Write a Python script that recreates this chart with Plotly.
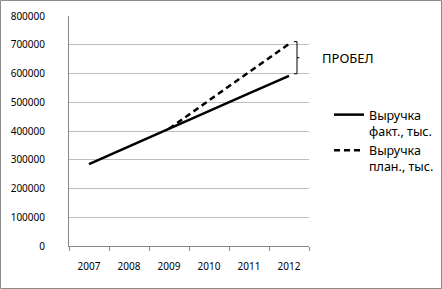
import plotly.graph_objects as go

years = ["2007", "2008", "2009", "2010", "2011", "2012"]
fact = [285000, 347000, 408000, 470000, 531000, 592000]
plan = [None, None, 408000, 506000, 604000, 703000]
y_ticks = [0, 100000, 200000, 300000, 400000, 500000, 600000, 700000, 800000]
fact_name = "Выручка<br>факт., тыс."
plan_name = "Выручка<br>план., тыс."
gap_label = "ПРОБЕЛ"
gap_top, gap_bottom = 711000, 599000

W, H = 442, 289
L, R, T, B = 69, 133, 16, 43
pw, ph = W - L - R, H - T - B

def px(xp):
    return (xp - L) / pw

def py(yp):
    return (H - B - yp) / ph

font = dict(family="Noto Sans", size=10, color="#000000")

fig = go.Figure()
fig.add_trace(go.Scatter(x=years, y=fact, mode="lines", name=fact_name,
                         line=dict(color="black", width=2.5)))
fig.add_trace(go.Scatter(x=years, y=plan, mode="lines", name=plan_name,
                         line=dict(color="black", width=2.5, dash="6px,4px")))

gap_mid = (gap_top + gap_bottom) / 2
bx = px(297)
shapes = [
    dict(type="line", xref="paper", yref="y", x0=bx, x1=bx, y0=gap_bottom, y1=gap_top,
         line=dict(color="black", width=1)),
    dict(type="line", xref="paper", yref="y", x0=px(294), x1=bx, y0=gap_top, y1=gap_top,
         line=dict(color="black", width=1)),
    dict(type="line", xref="paper", yref="y", x0=px(294), x1=bx, y0=gap_bottom, y1=gap_bottom,
         line=dict(color="black", width=1)),
    dict(type="line", xref="paper", yref="y", x0=bx, x1=px(299.5), y0=gap_mid, y1=gap_mid,
         line=dict(color="black", width=1)),
    dict(type="rect", xref="paper", yref="paper", x0=px(0.5), x1=px(441.5), y0=py(288.5), y1=py(0.5),
         line=dict(color="#8c8c8c", width=1)),
]

fig.update_layout(
    width=W, height=H,
    margin=dict(l=L, r=R, t=T, b=B, pad=0, autoexpand=False),
    paper_bgcolor="white", plot_bgcolor="white",
    font=font,
    shapes=shapes,
    showlegend=True,
    legend=dict(x=px(329), y=py(100), xanchor="left", yanchor="top",
                font=dict(family="Noto Sans", size=12.5, color="black"),
                bgcolor="rgba(0,0,0,0)", tracegroupgap=20, itemwidth=30,
                traceorder="normal", valign="top"),
    annotations=[dict(text=gap_label, xref="paper", yref="y", x=px(320), y=gap_mid,
                      xanchor="left", yanchor="middle", showarrow=False,
                      font=dict(family="Noto Sans", size=13, color="black"))],
)
fig.update_xaxes(type="category", range=[-0.5, 5.5], showgrid=False,
                 showline=True, linecolor="#868686", linewidth=1,
                 ticks="outside", tickson="boundaries", ticklen=4, tickcolor="#868686",
                 ticklabelstandoff=11, tickfont=font, zeroline=False)
fig.update_yaxes(range=[0, 800000], tickvals=y_ticks, ticktext=[str(v) for v in y_ticks],
                 showgrid=True, gridcolor="#bfbfbf", gridwidth=1,
                 showline=True, linecolor="#868686", linewidth=1,
                 ticks="", ticklabelstandoff=21, tickfont=font, zeroline=False)

fig.write_html("out.html")
